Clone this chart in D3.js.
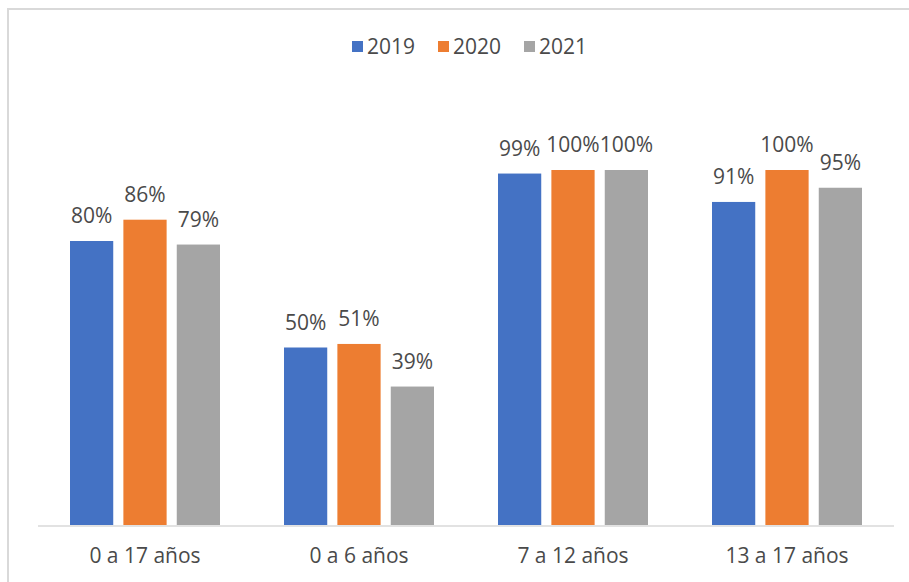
<!DOCTYPE html>
<html>
  <head>
    <meta charset="utf-8">
    <style>
      body {
        margin: 0;
        background-color: white;
      }
      text {
        font-family: "Open Sans", sans-serif;
        fill: #4a4a4a;
      }
    </style>
    <script src="https://d3js.org/d3.v7.min.js"></script>
  </head>
  <body>
    <script>
    var width = 909;
    var height = 582;

    var categories = ["0 a 17 años", "0 a 6 años", "7 a 12 años", "13 a 17 años"];
    var years = ["2019", "2020", "2021"];
    var values2019 = [80, 50, 99, 91];
    var values2020 = [86, 51, 100, 100];
    var values2021 = [79, 39, 100, 95];
    var colors = ["#4472C4", "#ED7D31", "#A5A5A5"];

    var series = [values2019, values2020, values2021];

    var svg = d3.select("body").append("svg")
      .attr("width", width)
      .attr("height", height);

    // chart frame
    svg.append("rect")
      .attr("x", 8)
      .attr("y", 9)
      .attr("width", 920)
      .attr("height", 600)
      .attr("fill", "white")
      .attr("stroke", "#d9d9d9")
      .attr("stroke-width", 2);

    var left = 38, right = 894, base = 525;

    let xScale = d3.scaleBand()
      .domain(categories)
      .range([left, right])
      .paddingInner(0)
      .paddingOuter(0);

    let inner = d3.scaleBand()
      .domain(years)
      .range([32, xScale.bandwidth() - 32])
      .paddingInner(0.19);

    let yScale = d3.scaleLinear()
      .domain([0, 100])
      .range([base, base - 355]);

    var groups = svg.append("g")
      .selectAll("g")
      .data(categories)
      .enter().append("g")
      .attr("transform", (d) => "translate(" + xScale(d) + ",0)");

    groups.selectAll("rect")
      .data((d, i) => years.map((y, j) => ({year: y, value: series[j][i], color: colors[j]})))
      .enter().append("rect")
      .attr("x", (d) => inner(d.year))
      .attr("width", inner.bandwidth())
      .attr("y", (d) => yScale(d.value))
      .attr("height", (d) => base - yScale(d.value))
      .attr("fill", (d) => d.color);

    groups.selectAll("text.val")
      .data((d, i) => years.map((y, j) => ({year: y, value: series[j][i]})))
      .enter().append("text")
      .attr("class", "val")
      .attr("x", (d) => inner(d.year) + inner.bandwidth() / 2)
      .attr("y", (d) => yScale(d.value) - 18)
      .attr("text-anchor", "middle")
      .style("font-size", "21px")
      .text((d) => d.value + "%");

    // baseline
    svg.append("line")
      .attr("x1", left)
      .attr("x2", right)
      .attr("y1", base + 1)
      .attr("y2", base + 1)
      .attr("stroke", "#d9d9d9")
      .attr("stroke-width", 1.5);

    var xAxis = svg.append("g")
      .attr("transform", "translate(0," + base + ")")
      .call(d3.axisBottom(xScale).tickSize(0).tickPadding(0));
    xAxis.select(".domain").remove();
    xAxis.selectAll("text")
      .attr("y", 38)
      .attr("dy", 0)
      .style("font-family", "'Open Sans', sans-serif")
      .style("font-size", "21px")
      .style("fill", "#4a4a4a");

    // legend
    var legendX = [352, 438, 524];
    var legend = svg.append("g")
      .selectAll("g")
      .data(years)
      .enter().append("g")
      .attr("transform", (d, i) => "translate(" + legendX[i] + ",41)");

    legend.append("rect")
      .attr("width", 11)
      .attr("height", 11)
      .attr("fill", (d, i) => colors[i]);

    legend.append("text")
      .attr("x", 15)
      .attr("y", 12.5)
      .style("font-size", "21px")
      .text((d) => d);
    </script>
  </body>
</html>
